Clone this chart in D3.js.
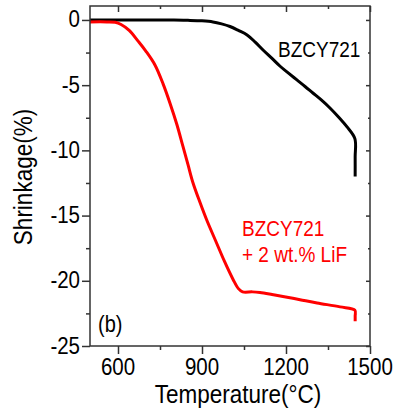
<!DOCTYPE html>
<html>
<head>
<meta charset="utf-8">
<script src="https://cdn.jsdelivr.net/npm/d3@7"></script>
<style>
  body { margin: 0; background: #fff; }
  text { font-family: "Liberation Sans", Arial, sans-serif; }
</style>
</head>
<body>
<svg id="chart" width="397" height="413"></svg>
<script>
// Shrinkage curves: [temperature (C), shrinkage (%)]
const bzcy = [
  [500, 0], [600, 0], [700, 0], [800, -0.01], [850, -0.03], [900, -0.07],
  [939, -0.15], [970, -0.3], [1000, -0.5], [1030, -0.8], [1061, -1.15],
  [1090, -1.7], [1118, -2.3], [1150, -2.95], [1179, -3.55], [1210, -4.1],
  [1239, -4.6], [1268, -5.1], [1296, -5.6], [1327, -6.15], [1357, -6.75],
  [1390, -7.5], [1418, -8.2], [1446, -9.1], [1447, -10.5], [1447, -12.0]
];
const bzcyLiF = [
  [500, -0.15], [560, -0.15], [590, -0.18], [611, -0.35], [640, -0.8],
  [671, -1.6], [700, -2.4], [732, -3.45], [761, -4.9], [786, -6.4],
  [810, -8.0], [832, -9.7], [850, -11.1], [868, -12.5], [893, -14.0],
  [918, -15.4], [952, -17.1], [980, -18.5], [1011, -19.9], [1030, -20.6],
  [1045, -20.85], [1080, -20.85], [1107, -20.9], [1150, -21.05], [1189, -21.2],
  [1250, -21.45], [1311, -21.7], [1393, -22.0], [1446, -22.25], [1447, -22.7],
  [1447, -23.1]
];

const xTicks = [600, 900, 1200, 1500];
const xMinor = [750, 1050, 1350];
const yTicks = [0, -5, -10, -15, -20, -25];
const yMinor = [-2.5, -7.5, -12.5, -17.5, -22.5];

const plot = { left: 90, right: 370, top: 6, bottom: 346 };
const stretch = 1.16; // text in the figure is slightly taller than wide

const svg = d3.select("#chart");

const x = d3.scaleLinear().domain([500, 1500]).range([plot.left, plot.right]);
const y = d3.scaleLinear().domain([-25, 1.07]).range([plot.bottom, plot.top]);

// text helper with vertical stretch
function label(tx, ty, str, opts) {
  return svg.append("text")
    .attr("transform", `translate(${tx},${ty}) rotate(${opts.rotate || 0}) scale(1,${stretch})`)
    .attr("text-anchor", opts.anchor || "start")
    .style("font-size", opts.size + "px")
    .style("fill", opts.color || "#000")
    .text(str);
}

// curves
const line = d3.line()
  .x(d => x(d[0]))
  .y(d => y(d[1]))
  .curve(d3.curveCatmullRom.alpha(0.5));

svg.append("path")
  .datum(bzcy)
  .attr("fill", "none")
  .attr("stroke", "#000")
  .attr("stroke-width", 3)
  .attr("d", line);

svg.append("path")
  .datum(bzcyLiF)
  .attr("fill", "none")
  .attr("stroke", "#ff0000")
  .attr("stroke-width", 3)
  .attr("d", line);

// frame
svg.append("rect")
  .attr("x", plot.left)
  .attr("y", plot.top)
  .attr("width", plot.right - plot.left)
  .attr("height", plot.bottom - plot.top)
  .attr("fill", "none")
  .attr("stroke", "#333")
  .attr("stroke-width", 1.5);

function ticks(axis, translate, values, size) {
  svg.append("g")
    .attr("transform", translate)
    .call(axis.tickValues(values).tickSize(size).tickFormat(""))
    .call(g => g.select(".domain").remove())
    .call(g => g.selectAll("line").attr("stroke", "#333").attr("stroke-width", 1.5));
}

// bottom + left axes (ticks outward)
ticks(d3.axisBottom(x), `translate(0,${plot.bottom})`, xTicks, 8);
ticks(d3.axisBottom(x), `translate(0,${plot.bottom})`, xMinor, 4);
ticks(d3.axisLeft(y), `translate(${plot.left},0)`, yTicks, 8);
ticks(d3.axisLeft(y), `translate(${plot.left},0)`, yMinor, 4);

// top + right mirrored ticks (inward)
ticks(d3.axisBottom(x), `translate(0,${plot.top})`, xTicks, 6);
ticks(d3.axisBottom(x), `translate(0,${plot.top})`, xMinor, 3);
ticks(d3.axisLeft(y), `translate(${plot.right},0)`, yTicks, 4);
ticks(d3.axisLeft(y), `translate(${plot.right},0)`, yMinor, 2);

// tick labels
xTicks.forEach(v => label(x(v), 375, String(v), { size: 20.5, anchor: "middle" }));
yTicks.forEach(v => label(80, y(v) + 7.5, String(v), { size: 20.5, anchor: "end" }));

// axis titles
label(238, 403, "Temperature(\u00B0C)", { size: 22.5, anchor: "middle" });
label(32, 177, "Shrinkage(%)", { size: 22.5, anchor: "middle", rotate: -90 });

// annotations
label(278, 57, "BZCY721", { size: 19 });
label(242, 236, "BZCY721", { size: 19, color: "#ff0000" });
label(242, 262, "+ 2 wt.% LiF", { size: 19, color: "#ff0000" });
label(98, 332, "(b)", { size: 20 });
</script>
</body>
</html>
